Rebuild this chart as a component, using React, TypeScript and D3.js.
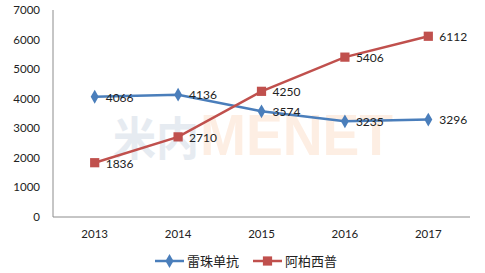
import React from "react";
import * as d3 from "d3";

const years = ["2013", "2014", "2015", "2016", "2017"];
const ranibizumab = [4066, 4136, 3574, 3235, 3296];
const aflibercept = [1836, 2710, 4250, 5406, 6112];
const yTicks = [0, 1000, 2000, 3000, 4000, 5000, 6000, 7000];
const seriesNames = ["雷珠单抗", "阿柏西普"];

const W = 485, H = 273;
const m = { left: 53, right: 15, top: 10, bottom: 56 };
const FONT = "Lato, 'Noto Sans CJK SC', sans-serif";

export default function App() {
  const x = d3.scaleBand().domain(years).range([m.left, W - m.right]);
  const y = d3.scaleLinear().domain([0, 7000]).range([H - m.bottom, m.top]);
  const cx = (d: string) => (x(d) ?? 0) + x.bandwidth() / 2;
  const line = d3.line<number>().x((_, i) => cx(years[i])).y((v) => y(v));
  const blue = "#4a7ebb";
  const red = "#c0504d";
  const diamond = d3.symbol().type(d3.symbolDiamond).size(55)()!;
  const square = d3.symbol().type(d3.symbolSquare).size(85)()!;
  const baseY = y(0);
  return (
    <svg width={W} height={H} style={{ position: "absolute", left: 0, top: 0, background: "#fff" }}>
      <g style={{ fontFamily: "Arial, 'Noto Sans CJK SC', sans-serif", fontWeight: 700 }}>
        <text x={113} y={155} fontSize={46} fill="#e6ebf1" textLength={86} lengthAdjust="spacingAndGlyphs">米内</text>
        <text x={200} y={155} fontSize={57} fill="#fdeee3" textLength={193} lengthAdjust="spacingAndGlyphs">MENET</text>
      </g>
      <line x1={m.left} x2={m.left} y1={m.top} y2={baseY} stroke="#8c8c8c" />
      <line x1={m.left} x2={W - m.right} y1={baseY} y2={baseY} stroke="#8c8c8c" />
      {yTicks.map((t) => (
        <text key={t} x={40} y={y(t)} dy="0.35em" textAnchor="end" fontSize={11.5} fontFamily={FONT} fill="#222">{t}</text>
      ))}
      {years.map((yr) => (
        <text key={yr} x={cx(yr)} y={238} textAnchor="middle" fontSize={11.5} fontFamily={FONT} fill="#222">{yr}</text>
      ))}
      <path d={line(ranibizumab)!} fill="none" stroke={blue} strokeWidth={2.5} />
      <path d={line(aflibercept)!} fill="none" stroke={red} strokeWidth={2.5} />
      {ranibizumab.map((v, i) => (
        <g key={"b" + i}>
          <path d={diamond} transform={`translate(${cx(years[i])},${y(v)})`} fill={blue} />
          <text x={cx(years[i]) + 11} y={y(v)} dy="0.4em" fontSize={12} fontFamily={FONT} fill="#222">{v}</text>
        </g>
      ))}
      {aflibercept.map((v, i) => (
        <g key={"r" + i}>
          <path d={square} transform={`translate(${cx(years[i])},${y(v)})`} fill={red} />
          <text x={cx(years[i]) + 11} y={y(v)} dy="0.4em" fontSize={12} fontFamily={FONT} fill="#222">{v}</text>
        </g>
      ))}
      <g transform="translate(155,261)">
        <line x1={0} x2={29} stroke={blue} strokeWidth={2.5} />
        <path d={diamond} transform="translate(14.5,0)" fill={blue} />
        <text x={32} dy="0.38em" fontSize={13} fontFamily={FONT} fill="#222">{seriesNames[0]}</text>
      </g>
      <g transform="translate(253,261)">
        <line x1={0} x2={29} stroke={red} strokeWidth={2.5} />
        <path d={square} transform="translate(14.5,0)" fill={red} />
        <text x={32} dy="0.38em" fontSize={13} fontFamily={FONT} fill="#222">{seriesNames[1]}</text>
      </g>
    </svg>
  );
}
